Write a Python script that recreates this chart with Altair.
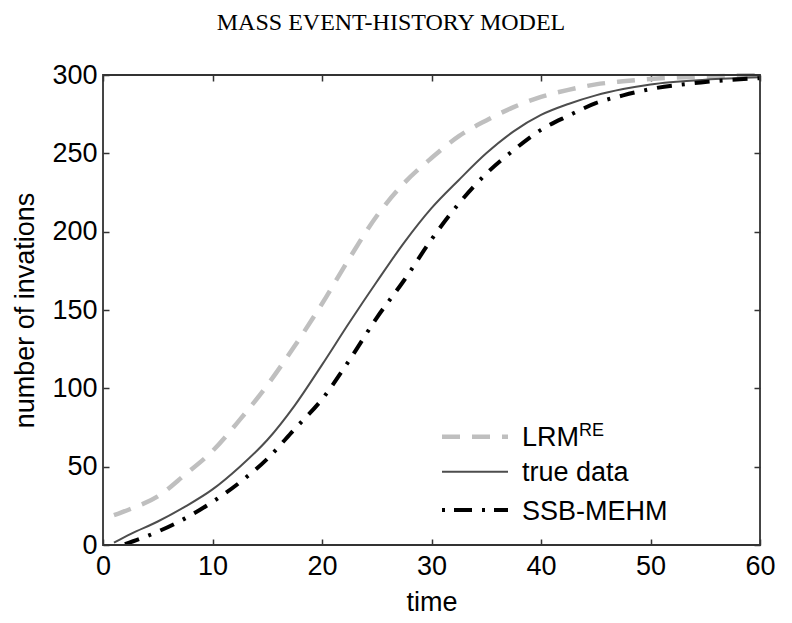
import altair as alt
import pandas as pd

# ---- data ----
lrm_t = [1, 2.5, 5, 7.5, 10, 12.5, 15, 17.5, 20, 22.5, 25, 27.5, 30, 32.5, 35, 37.5, 40, 42.5, 45, 47.5, 50, 55, 60]
lrm_v = [19, 23, 31, 45, 60, 80, 102, 127, 154, 183, 210, 231, 247, 261, 271, 279.5, 286, 290.5, 294, 296, 297.5, 299, 300]

true_t = [1, 2.5, 5, 7.5, 10, 12.5, 15, 17.5, 20, 22.5, 25, 27.5, 30, 32.5, 35, 37.5, 40, 42.5, 45, 47.5, 50, 55, 60]
true_v = [1.5, 7, 15, 24.5, 35.5, 50, 67, 89, 115, 142, 168, 193, 215, 233, 250, 264, 274.5, 281.5, 287, 291, 294, 297, 298.5]

ssb_t = [2, 5, 7.5, 10, 12.5, 15, 17.5, 20, 22.5, 25, 27.5, 30, 32.5, 35, 37.5, 40, 42.5, 45, 47.5, 50, 55, 60]
ssb_v = [0.5, 8.5, 17, 27.5, 40, 55, 74, 93, 118, 145, 169, 195, 218, 237, 252, 265, 274, 282, 287, 291, 295.5, 298]

x_ticks = [0, 10, 20, 30, 40, 50, 60]
y_ticks = [0, 50, 100, 150, 200, 250, 300]

title_text = "MASS EVENT-HISTORY MODEL"
x_title = "time"
y_title = "number of invations"
legend_labels = ["LRM", "true data", "SSB-MEHM"]
legend_sup = "RE"

FONT = "Liberation Sans"
FS = 27
W, H = 657, 470

df_lrm = pd.DataFrame({"t": lrm_t, "v": lrm_v})
df_true = pd.DataFrame({"t": true_t, "v": true_v})
df_ssb = pd.DataFrame({"t": ssb_t, "v": ssb_v})

x_scale = alt.Scale(domain=[0, 60], nice=False, zero=False)
y_scale = alt.Scale(domain=[0, 300], nice=False, zero=False)

tick_common = dict(domain=False, grid=False, ticks=True, tickSize=6, tickColor="#333333",
                   tickWidth=1.5, offset=-6)
label_common = dict(labelFont=FONT, labelFontSize=FS, labelColor="black",
                    titleFont=FONT, titleFontSize=FS, titleFontWeight="normal", titleColor="black")

x_axis_bottom = alt.Axis(values=x_ticks, orient="bottom", format="d", labelPadding=8,
                         labelFlush=False, title=x_title, titlePadding=10,
                         **tick_common, **label_common)
y_axis_left = alt.Axis(values=y_ticks, orient="left", format="d", labelPadding=6,
                       labelFlush=False, title=y_title, titlePadding=12,
                       **tick_common, **label_common)
x_axis_top = alt.Axis(values=x_ticks, orient="top", labels=False, title=None, **tick_common)
y_axis_right = alt.Axis(values=y_ticks, orient="right", labels=False, title=None, **tick_common)

lrm = alt.Chart(df_lrm).mark_line(
    color="#bfbfbf", strokeWidth=4.5, strokeDash=[18, 12], interpolate="monotone", strokeCap="butt"
).encode(
    x=alt.X("t:Q", scale=x_scale, axis=x_axis_bottom),
    y=alt.Y("v:Q", scale=y_scale, axis=y_axis_left),
)

true_line = alt.Chart(df_true).mark_line(
    color="#4d4d4d", strokeWidth=2, interpolate="monotone"
).encode(
    x=alt.X("t:Q", scale=x_scale, axis=x_axis_top),
    y=alt.Y("v:Q", scale=y_scale, axis=y_axis_right),
)

ssb = alt.Chart(df_ssb).mark_line(
    color="black", strokeWidth=4, strokeDash=[15, 10, 3, 10], interpolate="monotone", strokeCap="butt"
).encode(
    x=alt.X("t:Q", scale=x_scale, axis=None),
    y=alt.Y("v:Q", scale=y_scale, axis=None),
)

one = alt.Data(values=[{"k": 0}])

# box around the axes
frame = alt.Chart(one).mark_rect(
    fillOpacity=0, stroke="#333333", strokeWidth=1.8
).encode(x=alt.value(0), x2=alt.value(W), y=alt.value(0), y2=alt.value(H))

# ---- manual legend (inside plot, lower right) ----
LX1, LX2, TX = 339, 405, 419
rows_y = [361.7, 396.7, 435]

leg_lrm = alt.Chart(one).mark_rule(color="#bfbfbf", strokeWidth=4.5, strokeDash=[18, 12], strokeCap="butt").encode(
    x=alt.value(LX1), x2=alt.value(LX2), y=alt.value(rows_y[0]))
leg_true = alt.Chart(one).mark_rule(color="#4d4d4d", strokeWidth=2).encode(
    x=alt.value(LX1), x2=alt.value(LX2), y=alt.value(rows_y[1]))
leg_ssb = alt.Chart(one).mark_rule(color="black", strokeWidth=4, strokeDash=[3, 9, 18, 10], strokeCap="butt").encode(
    x=alt.value(LX1), x2=alt.value(LX2), y=alt.value(rows_y[2]))

def txt_mark(txt, x, y, size=FS, font=FONT, align="left"):
    return alt.Chart(one).mark_text(
        text=txt, align=align, baseline="alphabetic", font=font, fontSize=size, color="black"
    ).encode(x=alt.value(x), y=alt.value(y))

t1 = txt_mark(legend_labels[0], TX, rows_y[0] + 9.7)
t1s = txt_mark(legend_sup, TX + 57, rows_y[0] - 0.3, size=18)
t2 = txt_mark(legend_labels[1], TX, rows_y[1] + 9.7)
t3 = txt_mark(legend_labels[2], TX, rows_y[2] + 9.7)

# chart title (serif, centred over the figure rather than the axes)
title = txt_mark(title_text, 288, -45, size=24, font="Liberation Serif", align="center")

chart = alt.layer(
    lrm, true_line, ssb, frame, leg_lrm, leg_true, leg_ssb, t1, t1s, t2, t3, title
).resolve_axis(
    x="independent", y="independent"
).properties(
    width=W, height=H,
    padding={"left": 95, "top": 67, "right": 24, "bottom": 70},
    autosize=alt.AutoSizeParams(type="none"),
).configure_view(
    strokeWidth=0
).configure(background="white")

chart.save("out.html", embed_options={"renderer": "svg", "actions": False})
